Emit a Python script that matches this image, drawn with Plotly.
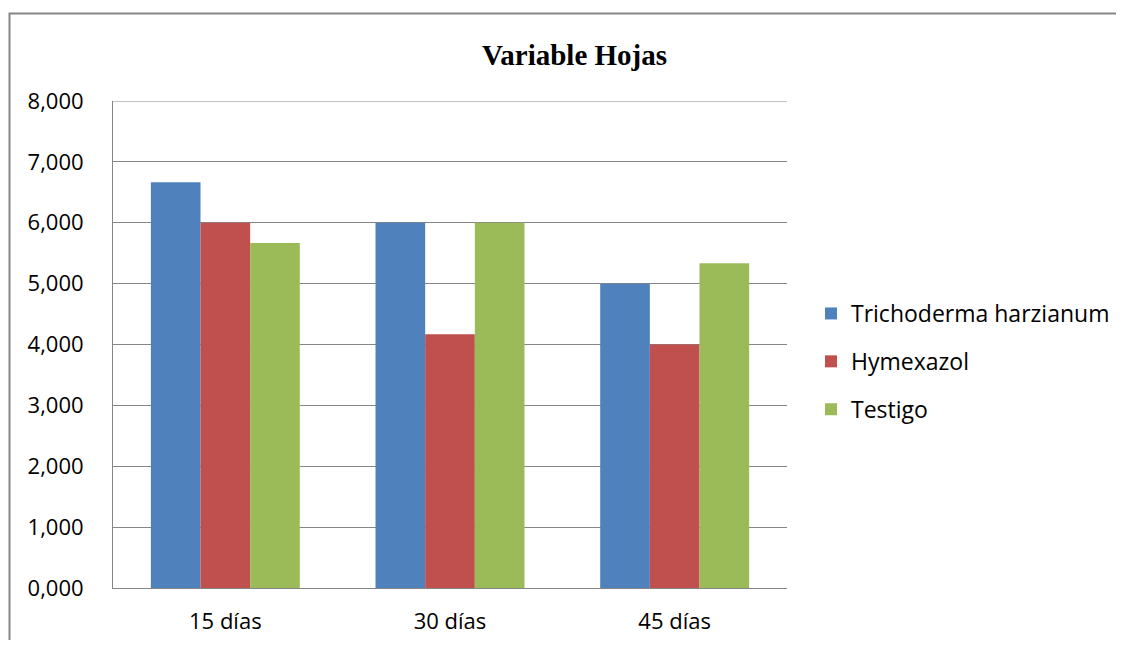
import plotly.graph_objects as go

categories = ["15 días", "30 días", "45 días"]
trichoderma = [6.667, 6.000, 5.000]
hymexazol = [6.000, 4.167, 4.000]
testigo = [5.667, 6.000, 5.333]
series_names = ["Trichoderma harzianum", "Hymexazol", "Testigo"]
colors = ["#4F81BD", "#C0504D", "#9BBB59"]
title = "Variable Hojas"
y_max = 8

OFF = 8  # default body margin of the html page
W, H = 1124 - 2 * OFF, 648 - 2 * OFF
# plot area in page pixels
L, R, T, B = 113 - OFF, 787 - OFF, 101 - OFF, 588 - OFF
pw, ph = R - L, B - T

def px(x):
    return (x - OFF - L) / pw

def py(y):
    return (B - (y - OFF)) / ph

fig = go.Figure()
for i, (name, vals) in enumerate(zip(series_names, [trichoderma, hymexazol, testigo])):
    fig.add_trace(go.Bar(x=categories, y=vals, name=name, marker_color=colors[i],
                         marker_line_width=0, legendgroup=str(i)))

tick_font = dict(family="Open Sans", size=22, color="#000000")
legend_font = dict(family="Open Sans", size=23, color="#000000")

fig.update_layout(
    width=W, height=H,
    margin=dict(l=L, r=W - R, t=T, b=H - B, pad=0, autoexpand=False),
    paper_bgcolor="white", plot_bgcolor="white",
    barmode="group", bargap=0.337, bargroupgap=0,
    separators=",.",
    font=tick_font,
    showlegend=True,
    legend=dict(x=px(811), y=py(292), xanchor="left", yanchor="top",
                font=legend_font, tracegroupgap=15, itemwidth=30,
                bgcolor="rgba(0,0,0,0)"),
    yaxis=dict(range=[0, y_max], tickvals=list(range(0, y_max + 1)), tickformat=".3f",
               showgrid=True, gridcolor="#868686", gridwidth=1, showline=True,
               linecolor="#868686", linewidth=1, ticks="", ticklabelstandoff=24,
               zeroline=False, tickfont=tick_font, automargin=False),
    xaxis=dict(showline=True, linecolor="#868686", linewidth=1, ticks="",
               ticklabelstandoff=14, tickfont=tick_font, automargin=False),
    shapes=[dict(type="rect", xref="paper", yref="paper",
                 x0=px(9.5), x1=px(1140), y0=py(670), y1=py(13.5),
                 line=dict(color="#868686", width=2), fillcolor="rgba(0,0,0,0)", layer="above"),
            dict(type="line", xref="paper", yref="y", x0=0, x1=1, y0=y_max, y1=y_max,
                 line=dict(color="#868686", width=1), layer="below")],
    annotations=[dict(text="<b>" + title + "</b>", xref="paper", yref="paper",
                      x=px(574), y=py(55), xanchor="center", yanchor="middle",
                      showarrow=False,
                      font=dict(family="Liberation Serif", size=29, color="#000000"))],
)

fig.write_html("out.html")
